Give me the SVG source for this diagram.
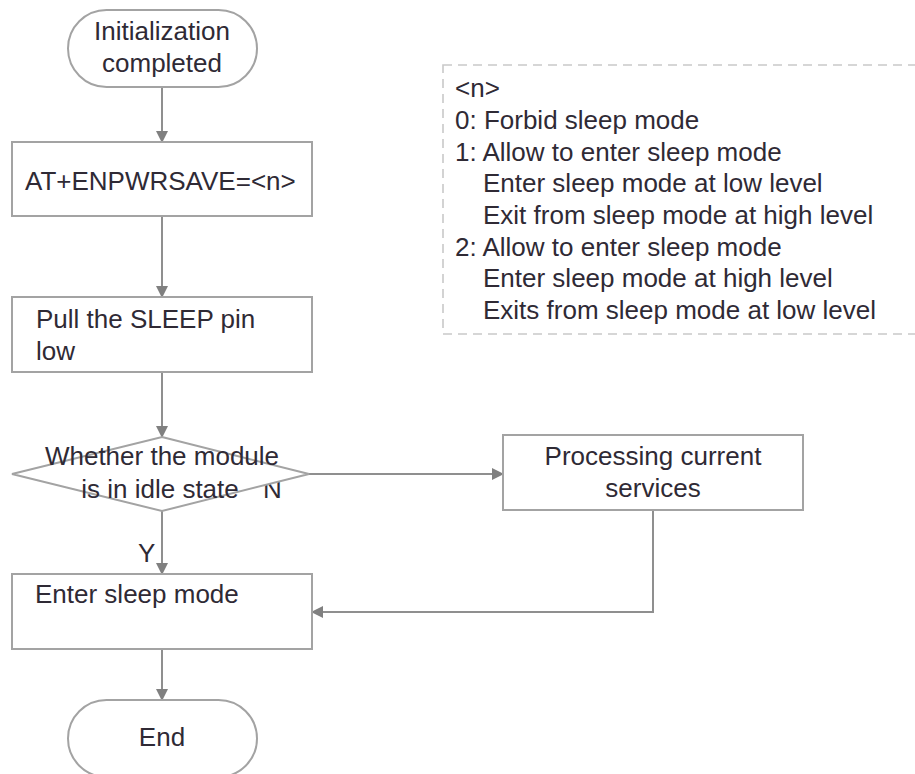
<svg xmlns="http://www.w3.org/2000/svg" width="915" height="774" viewBox="0 0 915 774">
<defs>
<style>
.shape{fill:#ffffff;stroke:#a3a3a3;stroke-width:2}
.conn{fill:none;stroke:#8f8f8f;stroke-width:2}
.t{font-family:"Liberation Sans",Arial,sans-serif;font-size:26px;fill:#2f2a35}
.c{text-anchor:middle}
.legend{fill:none;stroke:#c9c9c9;stroke-width:1.6;stroke-dasharray:9 6}
</style>
<marker id="ah" markerWidth="12" markerHeight="12" viewBox="0 0 12 12" refX="11" refY="6" orient="auto" markerUnits="userSpaceOnUse">
<path d="M0,0 L12,6 L0,12 Z" fill="#808080"/>
</marker>
</defs>
<rect x="0" y="0" width="915" height="774" fill="#ffffff"/>

<g id="legend">
<rect class="legend" x="443" y="65" width="500" height="269"/>
<text class="t" x="455" y="97">&lt;n&gt;</text>
<text class="t" x="455" y="129">0: Forbid sleep mode</text>
<text class="t" x="455" y="161">1: Allow to enter sleep mode</text>
<text class="t" x="483" y="192">Enter sleep mode at low level</text>
<text class="t" x="483" y="224">Exit from sleep mode at high level</text>
<text class="t" x="455" y="256">2: Allow to enter sleep mode</text>
<text class="t" x="483" y="287">Enter sleep mode at high level</text>
<text class="t" x="483" y="319">Exits from sleep mode at low level</text>
</g>

<g id="connectors">
<line class="conn" x1="162" y1="87" x2="162" y2="142" marker-end="url(#ah)"/>
<line class="conn" x1="162" y1="216" x2="162" y2="297" marker-end="url(#ah)"/>
<line class="conn" x1="162" y1="372" x2="162" y2="437" marker-end="url(#ah)"/>
<line class="conn" x1="162" y1="511" x2="162" y2="574" marker-end="url(#ah)"/>
<line class="conn" x1="162" y1="649" x2="162" y2="700" marker-end="url(#ah)"/>
<line class="conn" x1="309" y1="474" x2="503" y2="474" marker-end="url(#ah)"/>
<polyline class="conn" points="653,510 653,612 312,612" marker-end="url(#ah)"/>
<text class="t" x="138" y="562">Y</text>
<text class="t" x="263" y="498">N</text>
</g>

<g id="start">
<rect class="shape" x="68" y="10" width="189" height="77" rx="38.5" ry="38.5"/>
<text class="t c" x="162" y="40">Initialization</text>
<text class="t c" x="162" y="72">completed</text>
</g>

<g id="set-cmd">
<rect class="shape" x="12" y="142" width="300" height="74"/>
<text class="t" x="25" y="190">AT+ENPWRSAVE=&lt;n&gt;</text>
</g>

<g id="pull-low">
<rect class="shape" x="12" y="297" width="300" height="75"/>
<text class="t" x="36" y="328">Pull the SLEEP pin</text>
<text class="t" x="36" y="360">low</text>
</g>

<g id="idle-check">
<polygon class="shape" points="162,437 309,474 162,511 12,474"/>
<text class="t c" x="162" y="465">Whether the module</text>
<text class="t c" x="160" y="498">is in idle state</text>
</g>

<g id="processing">
<rect class="shape" x="503" y="435" width="300" height="75"/>
<text class="t c" x="653" y="465">Processing current</text>
<text class="t c" x="653" y="497">services</text>
</g>

<g id="sleep">
<rect class="shape" x="12" y="574" width="300" height="75"/>
<text class="t" x="35" y="603">Enter sleep mode</text>
</g>

<g id="end">
<rect class="shape" x="68" y="700" width="189" height="77" rx="38.5" ry="38.5"/>
<text class="t c" x="162" y="746">End</text>
</g>
</svg>
